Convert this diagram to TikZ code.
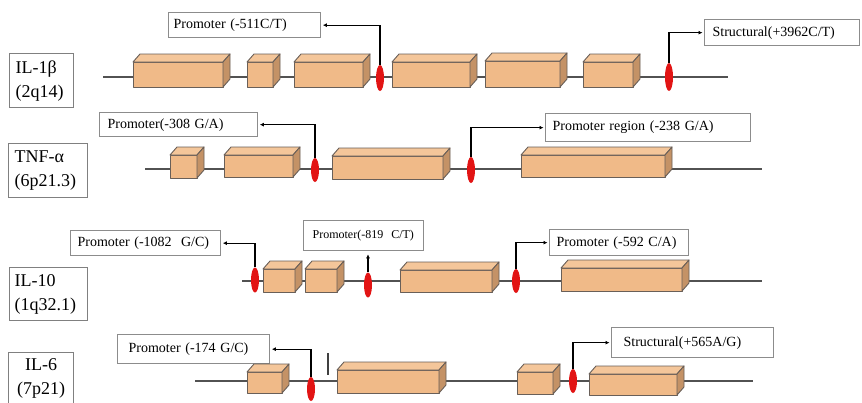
\documentclass[tikz,border=0pt]{standalone}
\usepackage{fontspec}
\setmainfont{Liberation Serif}
\usetikzlibrary{arrows.meta,shapes.geometric}

\definecolor{exonfront}{RGB}{240,186,136}
\definecolor{exontop}{RGB}{244,198,154}
\definecolor{exonside}{RGB}{196,146,102}
\definecolor{exonedge}{RGB}{105,95,88}
\definecolor{snpred}{RGB}{226,20,20}

% one exon drawn as a small 3-D block: left, right, front top, bottom
\newcommand\genexon[4]{%
  \filldraw[exonline,fill=exonfront] (#1,#3) rectangle (#2,#4);
  \filldraw[exonline,fill=exontop] (#1,#3) -- ++(7,-8) -- (#2+7,#3-8) -- (#2,#3) -- cycle;
  \filldraw[exonline,fill=exonside] (#2,#3) -- (#2+7,#3-8) -- (#2+7,#4-8) -- (#2,#4) -- cycle;
}

\begin{document}
\begin{tikzpicture}[x=1pt,y=-1pt,
  exonline/.style={draw=exonedge, line width=0.9pt, line join=round},
  gene/.style={draw=black!68, line width=1.7pt},
  genebox/.style={draw=black!50, line width=1.3pt, fill=white, anchor=north west,
    inner ysep=0pt, font=\fontsize{18}{24}\selectfont},
  tag/.style={draw=black!45, line width=1.3pt, fill=white, anchor=north west,
    inner ysep=0pt, align=left, font=\fontsize{14}{16}\selectfont},
  snp/.style={ellipse, fill=snpred, minimum width=8pt, inner sep=0pt},
  lead/.style={draw=black, line width=1.3pt, -{Latex[length=4pt,width=4pt]}, shorten >=1.5pt},
]
\useasboundingbox[fill=white] (0,0) rectangle (862,402);
\clip (0,0) rectangle (862,402);

% ---------- gene names ----------
\node[genebox, minimum width=64pt, minimum height=54pt, text width=52pt, inner xsep=6pt, align=left]
  (g1) at (9,53) {IL-1β\\(2q14)};
\node[genebox, minimum width=79pt, minimum height=54pt, text width=67pt, inner xsep=6pt, align=left]
  (g2) at (8,143) {TNF-α\\(6p21.3)};
\node[genebox, minimum width=78pt, minimum height=53pt, text width=68pt, inner xsep=5pt, align=left]
  (g3) at (9,267) {IL-10\\(1q32.1)};
\node[genebox, minimum width=65pt, minimum height=52pt, text width=55pt, inner xsep=5pt, align=center]
  (g4) at (8,352) {IL-6\\(7p21)};

% ---------- IL-1beta ----------
\draw[gene] (103,77) -- (728,77);
\genexon{133}{223}{62}{87}
\genexon{247}{273}{62}{87}
\genexon{294}{363}{62}{87}
\genexon{392}{470}{62}{87}
\genexon{485}{560}{61}{87}
\genexon{583}{633}{62}{87}
\node[snp, minimum height=26pt] (s11) at (380,78) {};
\node[snp, minimum height=28pt] (s12) at (669,77) {};
\node[tag, minimum width=152pt, minimum height=25pt, inner xsep=5pt, text width=142pt]
  (t11) at (168,12) {Promoter (-511C/T)};
\node[tag, minimum width=155pt, minimum height=26pt, inner xsep=8pt, text width=139pt]
  (t12) at (704,19) {Structural(+3962C/T)};
\draw[lead] (s11.north) |- (t11.east);
\draw[lead] (s12.north) |- (t12.west);

% ---------- TNF-alpha ----------
\draw[gene] (145,169) -- (762,169);
\genexon{170}{197}{155}{178}
\genexon{224}{293}{155}{177}
\genexon{332}{443}{156}{179}
\genexon{521}{665}{155}{177}
\node[snp, minimum height=24pt] (s21) at (315,170) {};
\node[snp, minimum height=26pt] (s22) at (471,170) {};
\node[tag, minimum width=158pt, minimum height=24pt, inner xsep=8pt, text width=142pt]
  (t21) at (99,112) {Promoter(-308 G/A)};
\node[tag, minimum width=205pt, minimum height=28pt, inner xsep=7pt, text width=191pt]
  (t22) at (545,113) {Promoter region (-238 G/A)};
\draw[lead] (s21.north) |- (t21.east);
\draw[lead] (s22.north) |- (t22.west);

% ---------- IL-10 ----------
\draw[gene] (242,281) -- (762,281);
\genexon{263}{295}{269}{292}
\genexon{305}{337}{269}{292}
\genexon{400}{492}{270}{292}
\genexon{561}{682}{268}{291}
\node[snp, minimum height=25pt] (s31) at (255,280) {};
\node[snp, minimum height=25pt] (s32) at (368,285) {};
\node[snp, minimum height=24pt] (s33) at (516,281) {};
\node[tag, minimum width=150pt, minimum height=25pt, inner xsep=7pt, text width=136pt]
  (t31) at (70,230) {\mbox{Promoter (-1082~ G/C)}};
\node[tag, minimum width=120pt, minimum height=30pt, inner xsep=9pt, text width=102pt,
  font=\fontsize{12}{14}\selectfont]
  (t32) at (303,220) {Promoter(-819~ C/T)};
\node[tag, minimum width=139pt, minimum height=26pt, inner xsep=7pt, text width=125pt]
  (t33) at (549,229) {Promoter (-592 C/A)};
\draw[lead] (s31.north) |- (t31.east);
\draw[lead, shorten >=3pt] (s32.north) -- (s32.north |- t32.south);
\draw[lead] (s33.north) |- (t33.west);

% ---------- IL-6 ----------
\draw[gene] (195,381) -- (753,381);
\node[tag, minimum width=152pt, minimum height=29pt, inner xsep=11pt, text width=130pt]
  (t41) at (117,334) {Promoter (-174 G/C)};
\genexon{247}{282}{372}{393}
\genexon{337}{439}{370}{393}
\genexon{517}{553}{372}{394}
\genexon{589}{677}{374}{395}
\node[snp, minimum height=24pt] (s41) at (311,389) {};
\node[snp, minimum height=24pt] (s42) at (573,381) {};
\node[tag, minimum width=162pt, minimum height=30pt, inner xsep=12pt, text width=138pt]
  (t42) at (611,327) {Structural(+565A/G)};
\draw[lead] (s41.north) |- (t41.east);
\draw[lead] (s42.north) |- (t42.west);
\coordinate (tickA) at (328,353);
\coordinate (tickB) at (328,375);
\draw[black!75, line width=1.2pt] (tickA) -- (tickB);
\end{tikzpicture}
\end{document}
